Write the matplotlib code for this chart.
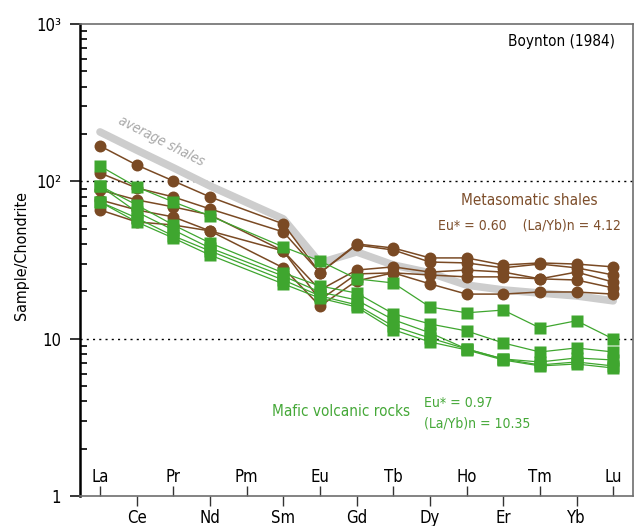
import matplotlib
matplotlib.use('Agg')
import matplotlib.pyplot as plt
from matplotlib.ticker import FixedLocator, LogLocator, NullFormatter, FixedFormatter

plt.rcParams['font.family'] = ['DejaVu Sans']
plt.rcParams['font.stretch'] = 'condensed'

# REE order on the x axis (Pm has no data)
elements = ['La', 'Ce', 'Pr', 'Nd', 'Pm', 'Sm', 'Eu', 'Gd', 'Tb', 'Dy', 'Ho', 'Er', 'Tm', 'Yb', 'Lu']
measured = ['La', 'Ce', 'Pr', 'Nd', 'Sm', 'Eu', 'Gd', 'Tb', 'Dy', 'Ho', 'Er', 'Tm', 'Yb', 'Lu']

# chondrite-normalised values (Boynton 1984)
average_shales = [206, 158, 122, 93.5, 57.7, 30.3, 35.6, 29.4, 26.2, 21.9, 20.4, 19.5, 18.7, 17.4]

shale_1 = [168, 127, 100.6, 79.6, 53.6, 26.2, 40.0, 37.7, 32.6, 32.6, 29.4, 30.3, 29.8, 28.6]
shale_2 = [113, 90.8, 79.6, 66.8, 47.7, 26.2, 39.4, 36.6, 30.7, 30.3, 28.2, 29.8, 28.2, 25.4]
shale_3 = [88.2, 76.2, 68.8, 61.2, 36.1, 20.4, 27.3, 28.6, 26.5, 27.3, 26.5, 24.0, 26.5, 22.9]
shale_4 = [76.2, 65.8, 59.4, 48.4, 36.1, 17.6, 25.8, 26.2, 25.4, 24.7, 24.7, 24.0, 23.6, 21.0]
shale_5 = [65.8, 55.2, 52.8, 48.4, 28.2, 16.1, 23.3, 26.2, 22.3, 19.2, 19.2, 19.8, 19.8, 19.2]

mafic_1 = [125, 92.1, 74.0, 60.3, 38.3, 31.2, 24.0, 22.6, 15.9, 14.6, 15.2, 11.7, 13.0, 9.96]
mafic_2 = [93.5, 70.8, 52.8, 40.6, 26.2, 21.6, 19.5, 14.4, 12.4, 11.2, 9.39, 8.23, 8.73, 8.23]
mafic_3 = [93.5, 63.9, 49.1, 37.7, 25.0, 19.8, 17.6, 13.2, 10.9, 8.60, 7.43, 7.11, 7.54, 7.32]
mafic_4 = [74.0, 58.5, 45.0, 36.1, 23.6, 18.7, 16.4, 12.0, 10.1, 8.60, 7.43, 6.81, 7.11, 6.71]
mafic_5 = [74.0, 55.2, 43.6, 34.0, 22.3, 18.1, 15.9, 11.4, 9.53, 8.48, 7.32, 6.71, 6.90, 6.51]

shales = [shale_1, shale_2, shale_3, shale_4, shale_5]
mafic = [mafic_1, mafic_2, mafic_3, mafic_4, mafic_5]

brown = '#7a4a24'
green = '#3fa62f'

x = [elements.index(e) for e in measured]

fig = plt.figure(figsize=(6.38, 5.26), dpi=100)
ax = fig.add_axes([80 / 638, 30 / 526, 553 / 638, 472 / 526])

ax.plot(x, average_shales, color='#cdcdcd', lw=5.5, solid_capstyle='round',
        solid_joinstyle='round', zorder=1)
ax.text(1.66, 181, 'average shales', color='#a8a8a8', style='italic', fontsize=10,
        rotation=-27, rotation_mode='anchor', ha='center', va='center', zorder=1)

for s in shales:
    ax.plot(x, s, color=brown, lw=1.1, marker='o', ms=8.6, mec='none', zorder=2)
for m in mafic:
    ax.plot(x, m, color=green, lw=0.9, marker='s', ms=8.4, mec='none', zorder=3)

ax.set_yscale('log')
ax.set_ylim(1, 1000)
ax.set_xlim(-0.546, 14.54)

for v in (10, 100):
    ax.axhline(v, color='black', lw=1, ls=(0, (1.5, 3)), zorder=0)

# y axis
ax.yaxis.set_major_locator(FixedLocator([1, 10, 100, 1000]))
ax.yaxis.set_major_formatter(FixedFormatter(['1', '10', '10²', '10³']))
ax.yaxis.set_minor_locator(LogLocator(base=10, subs=range(2, 10)))
ax.yaxis.set_minor_formatter(NullFormatter())
ax.tick_params(axis='y', which='major', direction='out', length=7.5, width=1.1,
               labelsize=12, pad=6, color='black')
ax.tick_params(axis='y', which='minor', direction='in', length=5, width=1.2, color='black')

# x axis: alternate elements above / below the axis
ax.xaxis.set_major_locator(FixedLocator(list(range(0, 15, 2))))
ax.xaxis.set_minor_locator(FixedLocator(list(range(1, 15, 2))))
ax.xaxis.set_major_formatter(NullFormatter())
ax.xaxis.set_minor_formatter(NullFormatter())
ax.tick_params(axis='x', which='major', direction='in', length=7.5, width=1, color='#333333')
ax.tick_params(axis='x', which='minor', direction='out', length=7.5, width=1, color='#333333')
xt = ax.get_xaxis_transform()
for i, name in enumerate(elements):
    if i % 2 == 0:
        ax.text(i, 0.04, name, transform=xt, ha='center', va='center', fontsize=12)
    else:
        ax.text(i, -0.047, name, transform=xt, ha='center', va='center', fontsize=12,
                clip_on=False)

ax.spines['left'].set_color('black')
ax.spines['left'].set_linewidth(1.8)
for side in ('top', 'right', 'bottom'):
    ax.spines[side].set_color('#6e6e6e')
    ax.spines[side].set_linewidth(1.2)

fig.text(22 / 638, (526 - 255) / 526, 'Sample/Chondrite', rotation=90,
         ha='center', va='center', fontsize=11.5)

ax.text(0.9675, 0.962, 'Boynton (1984)', transform=ax.transAxes, ha='right', va='center',
        fontsize=11)
ax.text(0.9367, 0.627, 'Metasomatic shales', transform=ax.transAxes, ha='right',
        va='center', fontsize=11, color='#7d4e2b')
ax.text(0.9778, 0.574, 'Eu* = 0.60    (La/Yb)n = 4.12', transform=ax.transAxes, ha='right',
        va='center', fontsize=10, color='#7d4e2b')
ax.text(0.3467, 0.1786, 'Mafic volcanic rocks', transform=ax.transAxes, ha='left',
        va='center', fontsize=11, color='#45a838')
ax.text(0.622, 0.1964, 'Eu* = 0.97', transform=ax.transAxes, ha='left', va='center',
        fontsize=10, color='#45a838')
ax.text(0.622, 0.154, '(La/Yb)n = 10.35', transform=ax.transAxes, ha='left', va='center',
        fontsize=10, color='#45a838')

fig.savefig('out.png', dpi=100)
